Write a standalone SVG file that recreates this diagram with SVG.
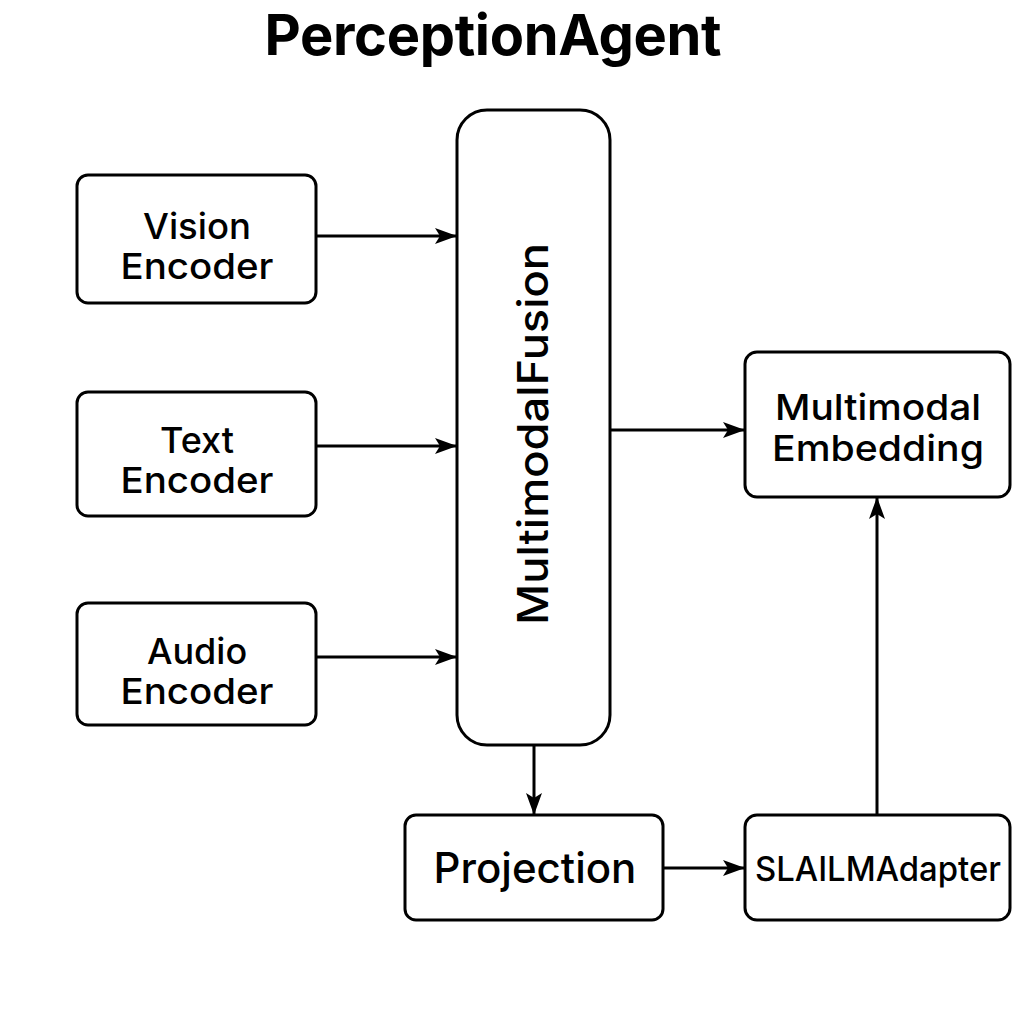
<svg xmlns="http://www.w3.org/2000/svg" width="1024" height="1024" viewBox="0 0 1024 1024">
<defs>
<marker id="ah" markerWidth="22" markerHeight="16" refX="21" refY="8" orient="auto" markerUnits="userSpaceOnUse">
<path d="M0,0 L22,8 L0,16 L5,8 Z" fill="#000"/>
</marker>
<style>
.box{fill:#fff;stroke:#000;stroke-width:3}
.lbl{font-family:Inter,"Liberation Sans",sans-serif;font-size:36px;font-weight:500;fill:#000;text-anchor:middle}
.conn line{stroke:#000;stroke-width:3;marker-end:url(#ah)}
</style>
</defs>
<rect width="1024" height="1024" fill="#fff"/>
<text x="493" y="55" font-family="Inter,'Liberation Sans',sans-serif" font-size="56" font-weight="700" text-anchor="middle" textLength="457">PerceptionAgent</text>
<g id="vision"><rect class="box" x="77" y="175" width="239" height="128" rx="11"/><text class="lbl" x="197" y="239" textLength="108" lengthAdjust="spacingAndGlyphs">Vision</text><text class="lbl" x="197" y="279" textLength="153" lengthAdjust="spacingAndGlyphs">Encoder</text></g>
<g id="text"><rect class="box" x="77" y="392" width="239" height="124" rx="11"/><text class="lbl" x="197" y="453">Text</text><text class="lbl" x="197" y="493" textLength="153" lengthAdjust="spacingAndGlyphs">Encoder</text></g>
<g id="audio"><rect class="box" x="77" y="603" width="239" height="122" rx="11"/><text class="lbl" x="197" y="664">Audio</text><text class="lbl" x="197" y="704" textLength="153" lengthAdjust="spacingAndGlyphs">Encoder</text></g>
<g id="fusion"><rect class="box" x="457" y="110" width="153" height="635" rx="30"/><text class="lbl" transform="translate(548,434) rotate(-90)" x="0" y="0" style="font-size:42px" textLength="382" lengthAdjust="spacingAndGlyphs">MultimodalFusion</text></g>
<g id="embedding"><rect class="box" x="745" y="352" width="265" height="145" rx="12"/><text class="lbl" x="878" y="420" textLength="206" lengthAdjust="spacingAndGlyphs">Multimodal</text><text class="lbl" x="878" y="461" textLength="212" lengthAdjust="spacingAndGlyphs">Embedding</text></g>
<g id="projection"><rect class="box" x="405" y="815" width="258" height="105" rx="11"/><text class="lbl" x="535" y="883" style="font-size:42px">Projection</text></g>
<g id="adapter"><rect class="box" x="745" y="815" width="265" height="105" rx="12"/><text class="lbl" x="878" y="881" style="font-size:34px" textLength="246" lengthAdjust="spacingAndGlyphs">SLAILMAdapter</text></g>
<g id="connectors" class="conn">
<line x1="316" y1="236" x2="456" y2="236"/>
<line x1="316" y1="446" x2="456" y2="446"/>
<line x1="316" y1="657" x2="456" y2="657"/>
<line x1="610" y1="430" x2="744" y2="430"/>
<line x1="534" y1="745" x2="534" y2="814"/>
<line x1="663" y1="868" x2="744" y2="868"/>
<line x1="877" y1="815" x2="877" y2="498"/>
</g>
</svg>
